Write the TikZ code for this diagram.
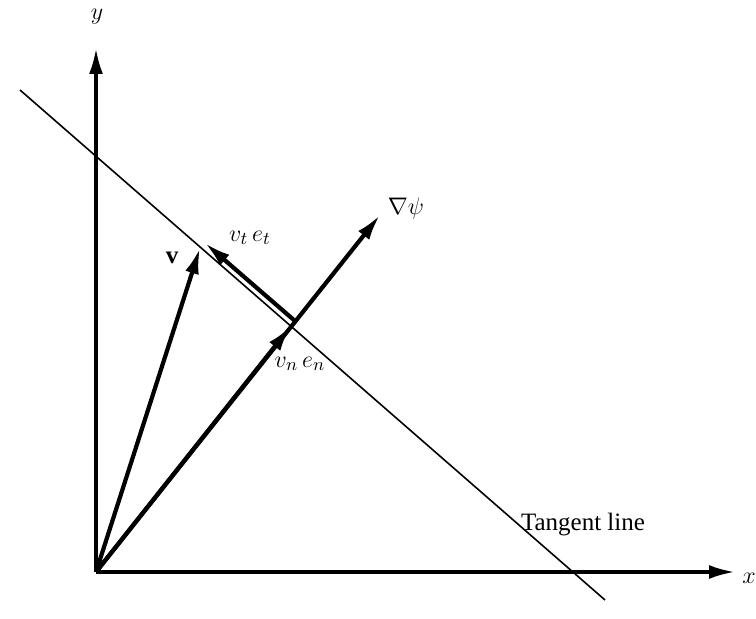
\documentclass[tikz,border=0pt]{standalone}
\usepackage{fontspec}
\setmainfont{Liberation Serif}
\usetikzlibrary{arrows.meta}
\begin{document}
\begin{tikzpicture}[x=0.5pt,y=-0.5pt,
  axis/.style={line width=1.8pt,-{Latex[length=13pt,width=7pt]}},
  vec/.style={line width=2.1pt,-{Latex[length=13pt,width=7pt]}},
  tline/.style={line width=0.8pt},
  lbl/.style={font=\fontsize{12.5}{14}\selectfont, inner sep=1pt}]
\path[use as bounding box] (0,0) rectangle (756,619);
% key points
\coordinate (O) at (96,572);
\coordinate (Ytip) at (96,48);
\coordinate (Xtip) at (735,572);
\coordinate (T1) at (20,90);
\coordinate (T2) at (605,600);
\coordinate (V) at (200,248);
\coordinate (G) at (380,215);
\coordinate (P) at (291,326);
\coordinate (Pt) at (295,321);
\coordinate (Vt) at (205,243);
% axes
\draw[axis] (O) -- (Ytip);
\draw[axis] (O) -- (Xtip);
% tangent line
\draw[tline] (T1) -- (T2);
% vectors
\draw[vec] (O) -- (V);
\draw[vec] (O) -- (G);
\draw[vec] (O) -- (P);
\draw[vec] (Pt) -- (Vt);
% labels
\node[lbl] (ly) at (97,17) {$y$};
\node[lbl] (lx) at (749,578) {$x$};
\node[lbl] (lv) at (172,258) {$\mathbf{v}$};
\node[lbl] (lgrad) at (406,209) {$\nabla\psi$};
\node[lbl] (lvt) at (250,238) {$v_t\,e_t$};
\node[lbl] (lvn) at (300,364) {$v_n\,e_n$};
\node[lbl] (ltan) at (583,525) {Tangent line};
\end{tikzpicture}
\end{document}
